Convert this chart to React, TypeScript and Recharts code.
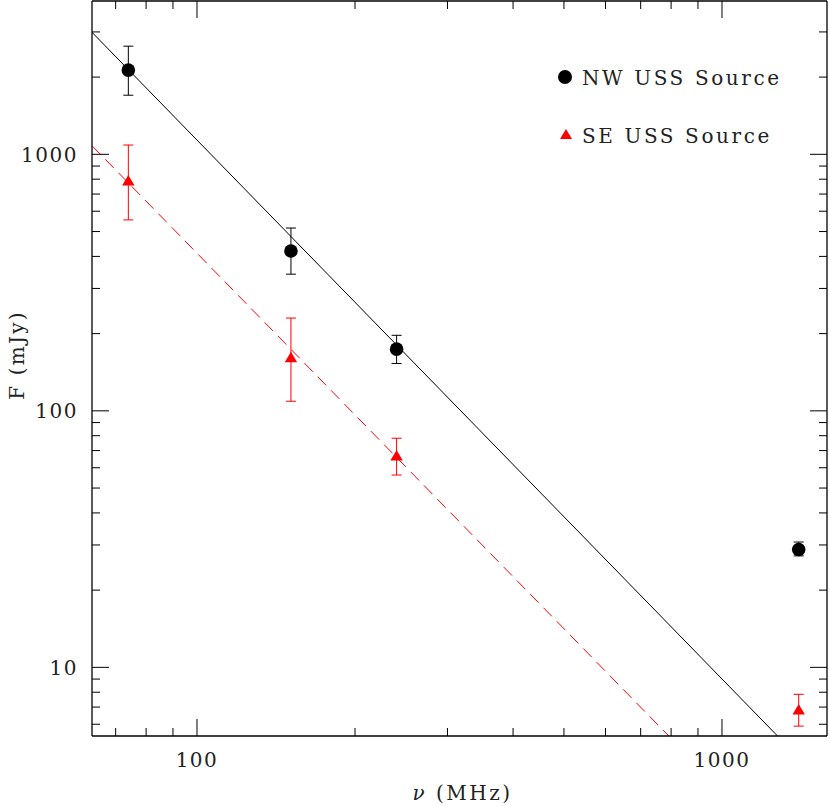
import { ComposedChart, Line, Scatter, ErrorBar, XAxis, YAxis, Legend, Label } from 'recharts';

if (typeof document !== 'undefined') document.body.style.margin = '0';

const FONT = '"DejaVu Serif", serif';
const RED = '#ff0000';

// observing frequencies (MHz)
const freqs = [74, 151, 240, 1400];

// NW source flux + error range (mJy)
const nwFlux = [2130, 420, 174, 28.8];
const nwLow = [1700, 341, 153, 27.2];
const nwHigh = [2640, 516, 197, 30.8];

// SE source flux + error range (mJy)
const seFlux = [787, 161, 66.7, 6.82];
const seLow = [555, 109, 56.2, 5.9];
const seHigh = [1087, 230, 78.2, 7.85];

// power-law fits, end points
const nwFitFreq = [63.1, 1276];
const nwFitFlux = [2990, 5.4];
const seFitFreq = [63.1, 792];
const seFitFlux = [1080, 5.4];

const xMajor = [100, 1000];
const xTicks = [70, 80, 90, 100, 200, 300, 400, 500, 600, 700, 800, 900, 1000];
const yMajor = [10, 100, 1000];
const yTicks = [6, 7, 8, 9, 10, 20, 30, 40, 50, 60, 70, 80, 90, 100, 200, 300, 400, 500, 600, 700, 800, 900, 1000, 2000, 3000];

const xDomain = [63.1, 1585];
const yDomain = [5.4, 3960];

const nwData = freqs.map((f, i) => ({ f, s: nwFlux[i], err: [nwFlux[i] - nwLow[i], nwHigh[i] - nwFlux[i]] }));
const seData = freqs.map((f, i) => ({ f, s: seFlux[i], err: [seFlux[i] - seLow[i], seHigh[i] - seFlux[i]] }));
const nwFit = nwFitFreq.map((f, i) => ({ f, s: nwFitFlux[i] }));
const seFit = seFitFreq.map((f, i) => ({ f, s: seFitFlux[i] }));

const MAJOR = 17;
const MINOR = 8;

const textStyle = { fontFamily: FONT, fontSize: 20, fill: '#222', letterSpacing: 1.5 };

function BottomTick({ x, y, payload }: any) {
    const major = xMajor.includes(payload.value);
    return (
        <g>
            <line x1={x} x2={x} y1={y} y2={y - (major ? MAJOR : MINOR)} stroke="#000" />
            {major && <text x={x} y={y + 31} textAnchor="middle" style={textStyle}>{payload.value}</text>}
        </g>
    );
}

function TopTick({ x, y, payload }: any) {
    const major = xMajor.includes(payload.value);
    return <line x1={x} x2={x} y1={y} y2={y + (major ? MAJOR : MINOR)} stroke="#000" />;
}

function LeftTick({ x, y, payload }: any) {
    const major = yMajor.includes(payload.value);
    return (
        <g>
            <line x1={x} x2={x + (major ? MAJOR : MINOR)} y1={y} y2={y} stroke="#000" />
            {major && <text x={x - 14} y={y + 7.5} textAnchor="end" style={textStyle}>{payload.value}</text>}
        </g>
    );
}

function RightTick({ x, y, payload }: any) {
    const major = yMajor.includes(payload.value);
    return <line x1={x} x2={x - (major ? MAJOR : MINOR)} y1={y} y2={y} stroke="#000" />;
}

const circleShape = (p: any) => <circle cx={p.cx} cy={p.cy} r={6.8} fill="#000" />;
const triangleShape = (p: any) => (
    <polygon points={`${p.cx},${p.cy - 6} ${p.cx - 6.2},${p.cy + 4.5} ${p.cx + 6.2},${p.cy + 4.5}`} fill={RED} />
);

function LegendBox() {
    return (
        <svg width={260} height={110}>
            <circle cx={17} cy={27} r={7} fill="#000" />
            <text x={34} y={34.5} style={{ ...textStyle, letterSpacing: 2.6 }}>NW USS Source</text>
            <polygon points="18,79 12,89 24,89" fill={RED} />
            <text x={34} y={92.5} style={{ ...textStyle, letterSpacing: 2.6 }}>SE USS Source</text>
        </svg>
    );
}

export default function App() {
    return (
        <div style={{ width: 830, height: 806 }}>
            <ComposedChart width={830} height={806} margin={{ top: 0, right: 0, bottom: 0, left: 0 }}>
                <XAxis
                    dataKey="f"
                    type="number"
                    scale="log"
                    domain={xDomain}
                    allowDataOverflow
                    ticks={xTicks}
                    interval={0}
                    tick={BottomTick}
                    tickLine={false}
                    tickSize={0}
                    tickMargin={0}
                    height={70}
                    axisLine={{ stroke: '#000', strokeWidth: 1.3 }}
                >
                    <Label
                        content={({ viewBox }: any) => (
                            <text x={viewBox.x + viewBox.width / 2 + 3} y={viewBox.y + 64} textAnchor="middle" style={{ ...textStyle, letterSpacing: 2.5 }}>
                                <tspan fontStyle="italic">ν</tspan>{'  '}(MHz)
                            </text>
                        )}
                    />
                </XAxis>
                <XAxis
                    xAxisId="top"
                    orientation="top"
                    dataKey="f"
                    type="number"
                    scale="log"
                    domain={xDomain}
                    allowDataOverflow
                    ticks={xTicks}
                    interval={0}
                    tick={TopTick}
                    tickLine={false}
                    tickSize={0}
                    tickMargin={0}
                    height={1}
                    axisLine={{ stroke: '#000', strokeWidth: 1.3 }}
                />
                <YAxis
                    type="number"
                    scale="log"
                    domain={yDomain}
                    allowDataOverflow
                    ticks={yTicks}
                    interval={0}
                    tick={LeftTick}
                    tickLine={false}
                    tickSize={0}
                    tickMargin={0}
                    width={92}
                    axisLine={{ stroke: '#000', strokeWidth: 1.3 }}
                >
                    <Label
                        content={({ viewBox }: any) => (
                            <text
                                x={24}
                                y={viewBox.y + 354}
                                textAnchor="middle"
                                transform={`rotate(-90, 24, ${viewBox.y + 354})`}
                                style={{ ...textStyle, letterSpacing: 2.2 }}
                            >
                                F (mJy)
                            </text>
                        )}
                    />
                </YAxis>
                <YAxis
                    yAxisId="right"
                    orientation="right"
                    type="number"
                    scale="log"
                    domain={yDomain}
                    allowDataOverflow
                    ticks={yTicks}
                    interval={0}
                    tick={RightTick}
                    tickLine={false}
                    tickSize={0}
                    tickMargin={0}
                    width={3}
                    axisLine={{ stroke: '#000', strokeWidth: 1.3 }}
                />

                <Line data={nwFit} dataKey="s" type="linear" stroke="#000" strokeWidth={1} dot={false} activeDot={false} isAnimationActive={false} legendType="none" />
                <Line data={seFit} dataKey="s" type="linear" stroke={RED} strokeWidth={1} strokeDasharray="12 7" dot={false} activeDot={false} isAnimationActive={false} legendType="none" />

                <Scatter data={nwData} dataKey="s" shape={circleShape} isAnimationActive={false}>
                    <ErrorBar dataKey="err" direction="y" width={5} stroke="#000" strokeWidth={1} />
                </Scatter>
                <Scatter data={seData} dataKey="s" shape={triangleShape} isAnimationActive={false}>
                    <ErrorBar dataKey="err" direction="y" width={5} stroke={RED} strokeWidth={1} />
                </Scatter>

                <Legend
                    layout="vertical"
                    align="center"
                    verticalAlign="middle"
                    content={LegendBox}
                    wrapperStyle={{ position: 'absolute', left: 548, top: 50, width: 260, height: 110 }}
                />
            </ComposedChart>
        </div>
    );
}
